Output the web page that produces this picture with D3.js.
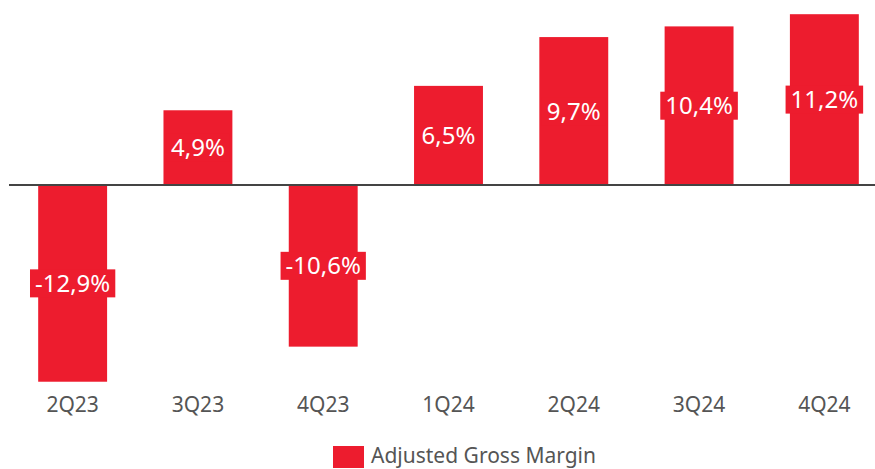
<!DOCTYPE html>
<html lang="en">
<head>
<meta charset="UTF-8">
<title>Adjusted Gross Margin</title>
<script src="https://cdn.jsdelivr.net/npm/d3@7"></script>
<style>
    body{margin:0;background:#fff;}
    text{font-family:"Noto Sans",sans-serif;}
</style>
</head>
<body>
<svg width="875" height="469"></svg>
<script>
    // data
    var quarters=['2Q23','3Q23','4Q23','1Q24','2Q24','3Q24','4Q24'];
    var margin=[-12.9,4.9,-10.6,6.5,9.7,10.4,11.2];
    var valueLabels=['-12,9%','4,9%','-10,6%','6,5%','9,7%','10,4%','11,2%'];
    var seriesName='Adjusted Gross Margin';

    var red='#ed1c2e';
    var svg=d3.select('svg');

    var x=d3.scaleBand()
        .domain(quarters)
        .range([10,887])
        .paddingInner(0.45)
        .paddingOuter(0.225);

    var y=d3.scaleLinear()
        .domain([-13,12])
        .range([383.25,2]);

    // bars
    svg.append('g').selectAll('rect')
        .data(margin)
        .enter()
        .append('rect')
        .attr('x',function(d,i){return x(quarters[i]);})
        .attr('y',function(d){return y(Math.max(0,d));})
        .attr('width',x.bandwidth())
        .attr('height',function(d){return Math.abs(y(d)-y(0));})
        .attr('fill',red);

    // zero line
    svg.append('line')
        .attr('x1',9).attr('x2',875)
        .attr('y1',y(0)).attr('y2',y(0))
        .attr('stroke','#444').attr('stroke-width',2);

    // value labels with red boxes
    var lg=svg.append('g').selectAll('g')
        .data(margin)
        .enter()
        .append('g')
        .attr('transform',function(d,i){
            return 'translate('+(x(quarters[i])+x.bandwidth()/2)+','+((y(d)+y(0))/2)+')';
        });
    lg.append('rect').attr('fill',red);
    lg.append('text')
        .attr('text-anchor','middle')
        .attr('dy','0.36em')
        .attr('fill','#fff')
        .attr('font-size',24)
        .text(function(d,i){return valueLabels[i];})
        .each(function(){
            var b=this.getBBox();
            d3.select(this.previousSibling)
                .attr('x',b.x-5).attr('width',b.width+10)
                .attr('y',-14).attr('height',28);
        });

    // category labels
    svg.append('g').selectAll('text')
        .data(quarters)
        .enter()
        .append('text')
        .attr('x',function(d){return x(d)+x.bandwidth()/2;})
        .attr('y',412)
        .attr('text-anchor','middle')
        .attr('fill','#555')
        .attr('font-size',21)
        .text(function(d){return d;});

    // legend
    var leg=svg.append('g');
    leg.append('rect')
        .attr('x',333).attr('y',446)
        .attr('width',31).attr('height',22)
        .attr('fill',red);
    leg.append('text')
        .attr('x',371).attr('y',463)
        .attr('fill','#555')
        .attr('font-size',21)
        .text(seriesName);
</script>
</body>
</html>
